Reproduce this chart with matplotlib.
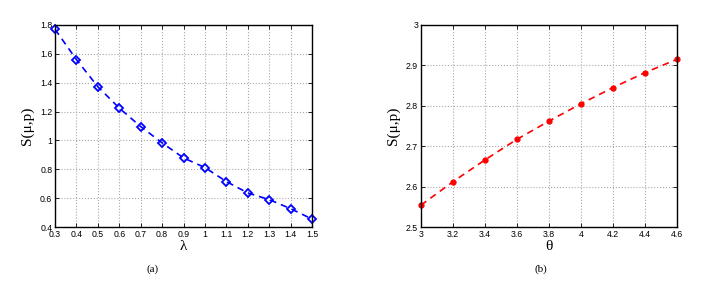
import matplotlib.pyplot as plt

# panel (a): S vs lambda
lam = [0.3, 0.4, 0.5, 0.6, 0.7, 0.8, 0.9, 1.0, 1.1, 1.2, 1.3, 1.4, 1.5]
s_lam = [1.77, 1.56, 1.372, 1.224, 1.096, 0.983, 0.879, 0.812, 0.715, 0.636, 0.59, 0.527, 0.455]
lam_ticks = [0.3, 0.4, 0.5, 0.6, 0.7, 0.8, 0.9, 1, 1.1, 1.2, 1.3, 1.4, 1.5]
lam_yticks = [0.4, 0.6, 0.8, 1, 1.2, 1.4, 1.6, 1.8]

# panel (b): S vs theta
theta = [3.0, 3.2, 3.4, 3.6, 3.8, 4.0, 4.2, 4.4, 4.6]
s_theta = [2.554, 2.612, 2.666, 2.717, 2.762, 2.805, 2.845, 2.882, 2.915]
theta_ticks = [3, 3.2, 3.4, 3.6, 3.8, 4, 4.2, 4.4, 4.6]
theta_yticks = [2.5, 2.6, 2.7, 2.8, 2.9, 3]

serif = ['Liberation Serif', 'DejaVu Serif']
sans = ['Liberation Sans', 'DejaVu Sans']


def fmt(v):
    return ('%g' % v)


def style_axes(ax, xticks, yticks, xlabel):
    ax.set_xticks(xticks)
    ax.set_yticks(yticks)
    ax.set_xticklabels([fmt(v) for v in xticks], fontsize=6.3, family=sans)
    ax.set_yticklabels([fmt(v) for v in yticks], fontsize=6.3, family=sans)
    ax.set_xlim(xticks[0], xticks[-1])
    ax.set_ylim(yticks[0], yticks[-1])
    ax.tick_params(direction='in', length=3, width=0.6, pad=2, top=True, right=True)
    ax.grid(True, linestyle=':', color='#aaaaaa', linewidth=0.8)
    for sp in ax.spines.values():
        sp.set_linewidth(1.0)
    ax.set_xlabel(xlabel, fontsize=11, family=serif, labelpad=1)
    ax.set_ylabel('S(μ,p)', fontsize=11, family=serif, labelpad=4)


fig = plt.figure(figsize=(7.11, 2.9), dpi=100)

ax1 = fig.add_axes([0.0774, 0.2172, 0.3615, 0.6966])
ax1.plot(lam, s_lam, '--', color='#0000ff', linewidth=1.2, dashes=(4, 3),
         marker='D', markersize=3.8, markerfacecolor='none', markeredgewidth=1.3,
         markeredgecolor='#0000ff', clip_on=False)
style_axes(ax1, lam_ticks, lam_yticks, 'λ')

ax2 = fig.add_axes([0.592, 0.2172, 0.360, 0.6966])
ax2.plot(theta, s_theta, '--', color='#ff0000', linewidth=1.2, dashes=(4, 3),
         marker='o', markersize=3.5, markerfacecolor='#ff0000',
         markeredgecolor='#ff0000', clip_on=False)
style_axes(ax2, theta_ticks, theta_yticks, 'θ')

fig.text(153 / 711, 1 - 269 / 290, '(a)', ha='center', va='center', fontsize=8, family=serif)
fig.text(541 / 711, 1 - 269 / 290, '(b)', ha='center', va='center', fontsize=8, family=serif)

fig.savefig('out.png', dpi=100)
